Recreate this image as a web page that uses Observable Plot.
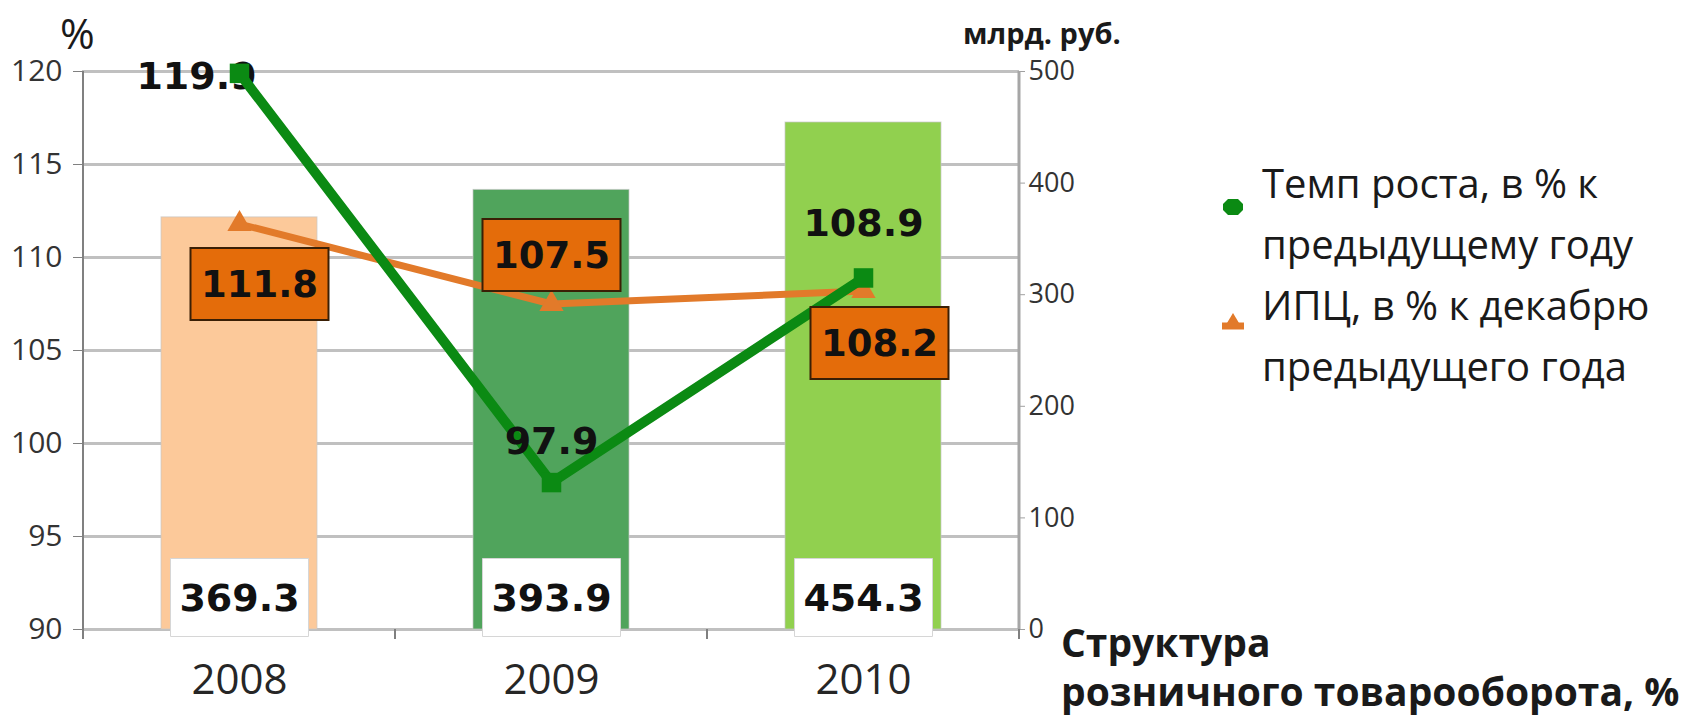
<!DOCTYPE html>
<html>
<head>
<meta charset="utf-8">
<script src="https://cdn.jsdelivr.net/npm/d3@7"></script>
<script src="https://cdn.jsdelivr.net/npm/@observablehq/plot@0.6"></script>
<style>
  body { margin: 0; background: #ffffff; }
  #wrap { position: relative; width: 1706px; height: 721px; overflow: hidden; font-family: "Open Sans", sans-serif; }
  #chart { position: absolute; left: 0; top: 0; }
  .ann { position: absolute; white-space: nowrap; color: #1a1a1a; line-height: 1.15; }
  .leg { position: absolute; left: 1262px; font-size: 40px; line-height: 61px; color: #1a1a1a; width: 450px; }
  .mk { position: absolute; }
</style>
</head>
<body>
<div id="wrap">
  <div id="chart"></div>
  <div class="ann" id="unitLeft" style="left:56px;top:6px;font-size:42px;line-height:1.3;padding:0 4px;"></div>
  <div class="ann" id="unitRight" style="left:963px;top:16px;font-size:29px;font-weight:bold;"></div>
  <div class="ann" id="caption" style="left:1061px;top:617px;font-size:39px;font-weight:bold;line-height:49px;"></div>
  <div class="leg" id="leg1" style="top:152px;"></div>
  <div class="leg" id="leg2" style="top:274px;"></div>
  <svg class="mk" style="left:1222px;top:198px" width="22" height="18"><path d="M6,1 L16,1 L21,6 L21,12 L16,17 L6,17 L1,12 L1,6 Z" fill="#0b8a13"/></svg>
  <svg class="mk" style="left:1221px;top:312px" width="24" height="20"><path d="M1,14 L23,14" stroke="#e27a2a" stroke-width="7"/><path d="M12,1 L21,16 L3,16 Z" fill="#e27a2a"/></svg>
</div>
<script>
// ---- data ----
const years = ["2008", "2009", "2010"];
const turnover = [369.3, 393.9, 454.3];     // млрд. руб. (right axis)
const growth = [119.9, 97.9, 108.9];        // Темп роста, в % к предыдущему году
const cpi = [111.8, 107.5, 108.2];          // ИПЦ, в % к декабрю предыдущего года
const leftTicks = [90, 95, 100, 105, 110, 115, 120];
const rightTicks = [0, 100, 200, 300, 400, 500];
const seriesNames = ["Темп роста, в % к предыдущему году", "ИПЦ, в % к декабрю предыдущего года"];
const unitLeft = "%";
const unitRight = "млрд. руб.";
const captionLines = ["Структура", "розничного товарооборота, %"];

// ---- styles ----
const barColors = ["#fcc99a", "#50a45c", "#91d04f"];
const growthColor = "#0b8a13";
const cpiColor = "#e27a2a";
const boxOrange = "#e46c0a";
const labelFont = '"DejaVu Sans", sans-serif';

document.getElementById("unitLeft").textContent = unitLeft;
document.getElementById("unitRight").textContent = unitRight;
document.getElementById("caption").innerHTML = captionLines.join("<br>");
document.getElementById("leg1").textContent = seriesNames[0];
document.getElementById("leg2").textContent = seriesNames[1];

const yMin = leftTicks[0], yMax = leftTicks[leftTicks.length - 1];
const rMax = rightTicks[rightTicks.length - 1];
const toPct = v => yMin + v / rMax * (yMax - yMin);
const fromPct = p => (p - yMin) / (yMax - yMin) * rMax;

const rows = years.map((year, i) => ({year, turnover: turnover[i], growth: growth[i], cpi: cpi[i]}));

const boxSymbol = (w, h) => ({draw(ctx) { ctx.rect(-w / 2, -h / 2, w, h); }});

function cpiLabel(year, dx, dy) {
  const d = rows.filter(r => r.year === year);
  return [
    Plot.dot(d, {x: "year", y: "cpi", symbol: boxSymbol(138, 72), fill: boxOrange, stroke: "#3a1f05", strokeWidth: 2, dx, dy}),
    Plot.text(d, {x: "year", y: "cpi", text: r => r.cpi.toFixed(1), dx, dy: dy + 1, fontSize: 37, fontWeight: "bold", fontFamily: labelFont, fill: "#111"})
  ];
}
function growthLabel(year, dx, dy) {
  const d = rows.filter(r => r.year === year);
  return Plot.text(d, {x: "year", y: "growth", text: r => r.growth.toFixed(1), dx, dy, fontSize: 38, fontWeight: "bold", fontFamily: labelFont, fill: "#111"});
}

const plot = Plot.plot({
  width: 1706,
  height: 721,
  marginLeft: 82,
  marginRight: 687,
  marginTop: 71,
  marginBottom: 92,
  style: {fontFamily: '"Open Sans", sans-serif', background: "transparent", overflow: "visible"},
  x: {type: "band", domain: years, paddingInner: 0.5, paddingOuter: 0.25},
  y: {domain: [yMin, yMax]},
  color: {domain: years, range: barColors},
  marks: [
    Plot.gridY({ticks: leftTicks, stroke: "#c0c0c0", strokeOpacity: 1, strokeWidth: 3}),
    Plot.barY(rows, {x: "year", y1: () => yMin, y2: d => toPct(d.turnover), fill: "year", stroke: "#c8c8c8", strokeWidth: 1, strokeOpacity: 0.7}),
    Plot.dot(rows, {x: "year", y: () => yMin, symbol: boxSymbol(138, 78), fill: "white", stroke: "#d6d6d6", strokeWidth: 1, dy: -32}),
    Plot.text(rows, {x: "year", y: () => yMin, text: d => d.turnover.toFixed(1), dy: -31, fontSize: 38, fontWeight: "bold", fontFamily: labelFont, fill: "#111"}),
    growthLabel("2008", -43, 3),
    Plot.line(rows, {x: "year", y: "cpi", stroke: cpiColor, strokeWidth: 7}),
    Plot.dot(rows, {x: "year", y: "cpi", symbol: "triangle", r: 9, fill: cpiColor}),
    Plot.line(rows, {x: "year", y: "growth", stroke: growthColor, strokeWidth: 10}),
    Plot.dot(rows, {x: "year", y: "growth", symbol: "square", r: 11, fill: growthColor}),
    ...cpiLabel("2008", 20, 60),
    ...cpiLabel("2009", 0, -49),
    ...cpiLabel("2010", 16, 52),
    growthLabel("2009", 0, -41),
    growthLabel("2010", 0, -54),
    Plot.axisY({anchor: "left", ticks: leftTicks, tickSize: 9, tickPadding: 11, fontSize: 30, stroke: "#808080", fill: "#333", label: null}),
    Plot.axisY({anchor: "right", ticks: rightTicks.map(toPct), tickFormat: d => String(Math.round(fromPct(d))), tickSize: 5, tickPadding: 4, fontSize: 27, stroke: "#a0a0a0", fill: "#333", label: null}),
    Plot.axisX({tickSize: 0, tickPadding: 35, fontSize: 42, fill: "#262626", label: null})
  ]
});

// axis lines and category separators from the library's scales
const xs = plot.scale("x"), ys = plot.scale("y");
const yTop = ys.apply(yMax), yBot = ys.apply(yMin);
const step = xs.apply(years[1]) - xs.apply(years[0]);
const bw = xs.bandwidth;
const first = xs.apply(years[0]) - (step - bw) / 2;
const g = d3.select(plot).append("g");
g.append("line").attr("x1", first).attr("x2", first).attr("y1", yTop).attr("y2", yBot + 10).attr("stroke", "#808080").attr("stroke-width", 2);
const last = first + step * years.length;
g.append("line").attr("x1", last).attr("x2", last).attr("y1", yTop).attr("y2", yBot).attr("stroke", "#a6a6a6").attr("stroke-width", 3);
for (let i = 1; i <= years.length; i++) {
  const bx = first + i * step;
  g.append("line").attr("x1", bx).attr("x2", bx).attr("y1", yBot).attr("y2", yBot + 10).attr("stroke", "#808080").attr("stroke-width", 2);
}

document.getElementById("chart").appendChild(plot);
</script>
</body>
</html>
